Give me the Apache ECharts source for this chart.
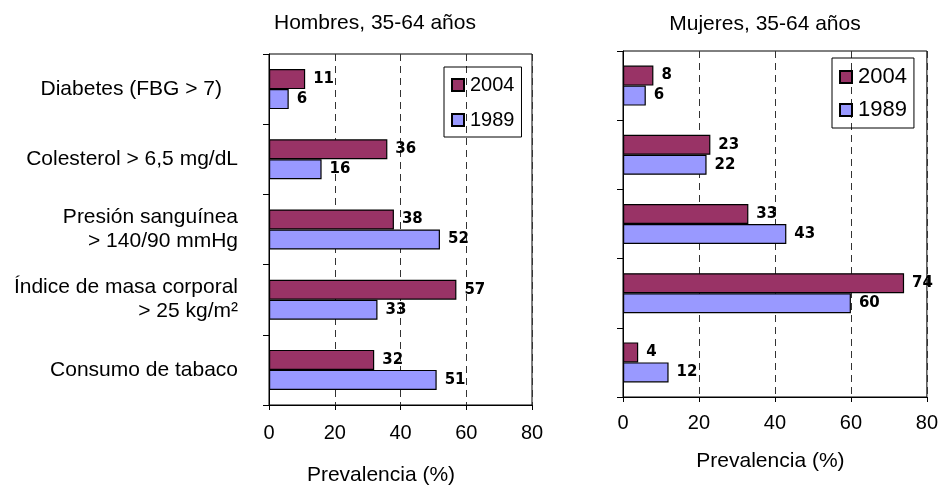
<!DOCTYPE html>
<html>
<head>
<meta charset="utf-8">
<script src="https://cdn.jsdelivr.net/npm/echarts@6/dist/echarts.min.js"></script>
<style>
html,body{margin:0;padding:0;background:#fff;}
#c{width:941px;height:491px;}
</style>
</head>
<body>
<div id="c"></div>
<script>
const categories = [
  'Diabetes (FBG > 7)',
  'Colesterol > 6,5 mg/dL',
  'Presión sanguínea\n> 140/90 mmHg',
  'Índice de masa corporal\n> 25 kg/m²',
  'Consumo de tabaco'
];
const seriesNames = ['2004', '1989'];
const hombres2004 = [11, 36, 38, 57, 32];
const hombres1989 = [6, 16, 52, 33, 51];
const mujeres2004 = [8, 23, 33, 74, 4];
const mujeres1989 = [6, 22, 43, 60, 12];
const panelTitles = ['Hombres, 35-64 años', 'Mujeres, 35-64 años'];
const axisName = 'Prevalencia (%)';

const C2004 = '#993366';
const C1989 = '#9999FF';
const FONT = '"Liberation Sans", Arial, sans-serif';

const chart = echarts.init(document.getElementById('c'), null, {renderer: 'canvas'});

// first category label sits a little further from the axis in the reference
const categoryItems = categories.map((c, i) => i === 0
  ? {value: c, textStyle: {padding: [0, 16, 0, 0]}}
  : c);

function xAxisCfg(grid, labelMargin, nameGap, namePad) {
  return {
    type: 'value', gridIndex: grid, min: 0, max: 80, interval: 20,
    axisLine: {show: true, lineStyle: {color: '#000', width: 1}},
    axisTick: {show: true, length: 5, lineStyle: {color: '#000'}},
    axisLabel: {color: '#000', fontSize: 20, fontFamily: FONT, margin: labelMargin},
    splitLine: {show: true, lineStyle: {color: '#333', type: [7, 5], width: 1}},
    name: axisName, nameLocation: 'middle', nameGap: nameGap,
    nameTextStyle: {color: '#000', fontSize: 21, fontFamily: FONT, padding: namePad}
  };
}
function yAxisCfg(grid, showLabels) {
  return {
    type: 'category', gridIndex: grid, inverse: true, data: categoryItems,
    axisLine: {show: true, lineStyle: {color: '#000', width: 1}},
    axisTick: {show: true, length: 6, lineStyle: {color: '#000'}},
    axisLabel: {show: showLabels, color: '#000', fontSize: 21, fontFamily: FONT,
      margin: 31, lineHeight: 24, align: 'right'},
    splitLine: {show: false}
  };
}
function barSeries(name, data, idx, color) {
  return {
    type: 'bar', name: name, data: data, xAxisIndex: idx, yAxisIndex: idx,
    barWidth: 20, barGap: '0%',
    itemStyle: {color: color, borderColor: '#000', borderWidth: 1.2},
    label: {show: true, position: 'right', distance: 8, color: '#000',
      fontSize: 15, fontWeight: 'bold', fontFamily: '"DejaVu Sans", sans-serif'}
  };
}
function legendCfg(left, top, fontSize, gap) {
  return {
    data: seriesNames, orient: 'vertical', left: left, top: top,
    itemWidth: 12, itemHeight: 12, itemGap: gap, icon: 'rect',
    borderColor: '#000', borderWidth: 1, padding: [8, 7, 7, 7],
    textStyle: {color: '#000', fontSize: fontSize, fontFamily: FONT, padding: [0, 0, 0, 1]},
    selectedMode: false
  };
}

chart.setOption({
  animation: false,
  backgroundColor: '#fff',
  grid: [
    {left: 269, right: 941 - 532, top: 54, bottom: 491 - 409, show: true, borderColor: '#000', borderWidth: 1, containLabel: false},
    {left: 623, right: 941 - 928, top: 51, bottom: 491 - 397, show: true, borderColor: '#000', borderWidth: 1, containLabel: false}
  ],
  xAxis: [xAxisCfg(0, 18, 60, [0, 39, 0, 0]), xAxisCfg(1, 16, 54, [0, 9, 0, 0])],
  yAxis: [yAxisCfg(0, true), yAxisCfg(1, false)],
  legend: [legendCfg(444, 67, 20, 15), legendCfg(832, 58, 22, 11)],
  graphic: [
    {type: 'text', x: 375, y: 23, style: {text: panelTitles[0], fill: '#000', font: '21px ' + FONT, textAlign: 'center', textVerticalAlign: 'middle'}},
    {type: 'text', x: 765, y: 24, style: {text: panelTitles[1], fill: '#000', font: '21px ' + FONT, textAlign: 'center', textVerticalAlign: 'middle'}}
  ],
  series: [
    barSeries(seriesNames[0], hombres2004, 0, C2004),
    barSeries(seriesNames[1], hombres1989, 0, C1989),
    barSeries(seriesNames[0], mujeres2004, 1, C2004),
    barSeries(seriesNames[1], mujeres1989, 1, C1989)
  ]
});
</script>
</body>
</html>
